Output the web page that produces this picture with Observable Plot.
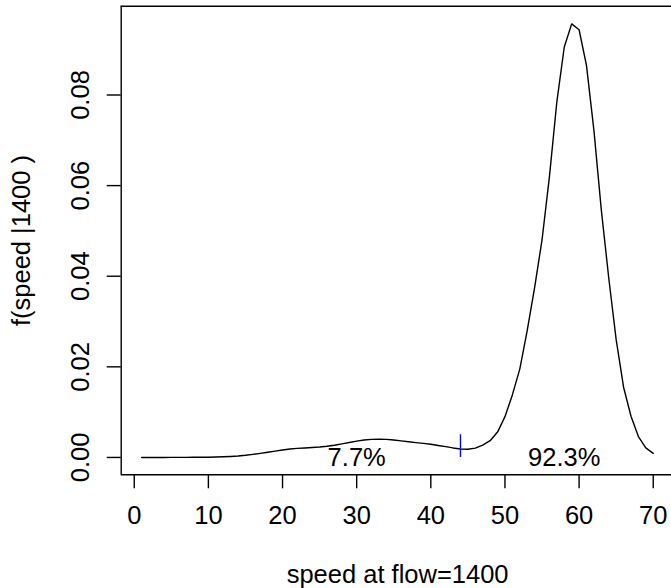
<!DOCTYPE html>
<html>
<head>
<meta charset="utf-8">
<script src="https://cdn.jsdelivr.net/npm/d3@7"></script>
<script src="https://cdn.jsdelivr.net/npm/@observablehq/plot@0.6"></script>
<style>
  html, body { margin: 0; padding: 0; background: #fff; overflow: hidden; }
  #chart svg { display: block; }
</style>
</head>
<body>
<div id="chart"></div>
<script>
// speed values (x) and estimated conditional density f(speed | 1400)
const speed = [1,2,3,4,5,6,7,8,9,10,11,12,13,14,15,16,17,18,19,20,
  21,22,23,24,25,26,27,28,29,30,31,32,33,34,35,36,37,38,39,40,
  41,42,43,44,45,46,47,48,49,50,51,52,53,54,55,56,57,58,59,60,
  61,62,63,64,65,66,67,68,69,70];
const density = [0.00000,0.00000,0.00000,0.00000,0.00001,0.00001,0.00002,0.00003,0.00004,0.00006,
  0.00009,0.00014,0.00022,0.00033,0.00048,0.00068,0.00090,0.00115,0.00140,0.00165,
  0.00185,0.00200,0.00210,0.00220,0.00232,0.00248,0.00270,0.00300,0.00330,0.00360,
  0.00385,0.00400,0.00405,0.00400,0.00385,0.00365,0.00345,0.00328,0.00310,0.00290,
  0.00265,0.00240,0.00210,0.00185,0.00180,0.00205,0.00270,0.00370,0.00560,0.00900,
  0.01380,0.01950,0.02800,0.03750,0.04800,0.06200,0.07850,0.09060,0.09570,0.09440,
  0.08650,0.07220,0.05460,0.03960,0.02600,0.01550,0.00910,0.00460,0.00210,0.00090];

const xTicks = [0,10,20,30,40,50,60,70];
const yTicks = [0.00,0.02,0.04,0.06,0.08];

// split marker (blue tick) between the two modes
const splitSpeed = [44];
const splitTop = [0.005];

// share labels
const shareText = ["7.7%","92.3%"];
const shareX = [30,58];
const shareY = [0,0];

const xLabel = "speed at flow=1400";
const yLabel = "f(speed |1400 )";

const xDomain = [-1.76, 72.76];
const yDomain = [-0.00383, 0.0996];

const curve = speed.map((s, i) => ({speed: s, f: density[i]}));
const shares = shareText.map((t, i) => ({t, x: shareX[i], y: shareY[i]}));

const FONT = "'Liberation Sans', Arial, Helvetica, sans-serif";
const FS = 25.5;

const chart = Plot.plot({
  width: 671,
  height: 588,
  marginLeft: 120.7,
  marginRight: -2.5,
  marginTop: 5.7,
  marginBottom: 113.7,
  style: {fontFamily: FONT, fontSize: FS + "px", color: "#000", background: "#fff"},
  x: {domain: xDomain, range: [120.7, 673.2]},
  y: {domain: yDomain, range: [474.3, 5.7]},
  marks: [
    // box (left, top, bottom; right edge falls outside the picture)
    Plot.ruleX([xDomain[0]], {y1: yDomain[0], y2: yDomain[1], stroke: "#000", strokeWidth: 1.4}),
    Plot.ruleY([yDomain[0], yDomain[1]], {x1: xDomain[0], x2: xDomain[1], stroke: "#000", strokeWidth: 1.4}),
    Plot.axisX({ticks: xTicks, tickSize: 14, tickPadding: 17, fontSize: FS, label: null, strokeWidth: 1.4}),
    Plot.axisY({ticks: yTicks, tickSize: 14, tickPadding: 18, fontSize: FS, label: null, tickRotate: -90,
      tickFormat: d3.format(".2f"), strokeWidth: 1.4}),
    Plot.line(curve, {x: "speed", y: "f", stroke: "#000", strokeWidth: 1.4}),
    Plot.ruleX(splitSpeed, {x: d => d, y1: 0, y2: (d, i) => splitTop[i], stroke: "#0000ff", strokeWidth: 1.4}),
    Plot.text(shares, {x: "x", y: "y", text: "t", fontSize: FS, lineAnchor: "middle", fill: "#000"}),
    Plot.text([xLabel], {frameAnchor: "bottom", dy: 100, fontSize: FS, textAnchor: "middle", lineAnchor: "middle", fill: "#000"}),
    Plot.text([yLabel], {frameAnchor: "left", dx: -99, rotate: -90, fontSize: FS, textAnchor: "middle", lineAnchor: "middle", fill: "#000"})
  ]
});
document.getElementById("chart").appendChild(chart);
</script>
</body>
</html>
